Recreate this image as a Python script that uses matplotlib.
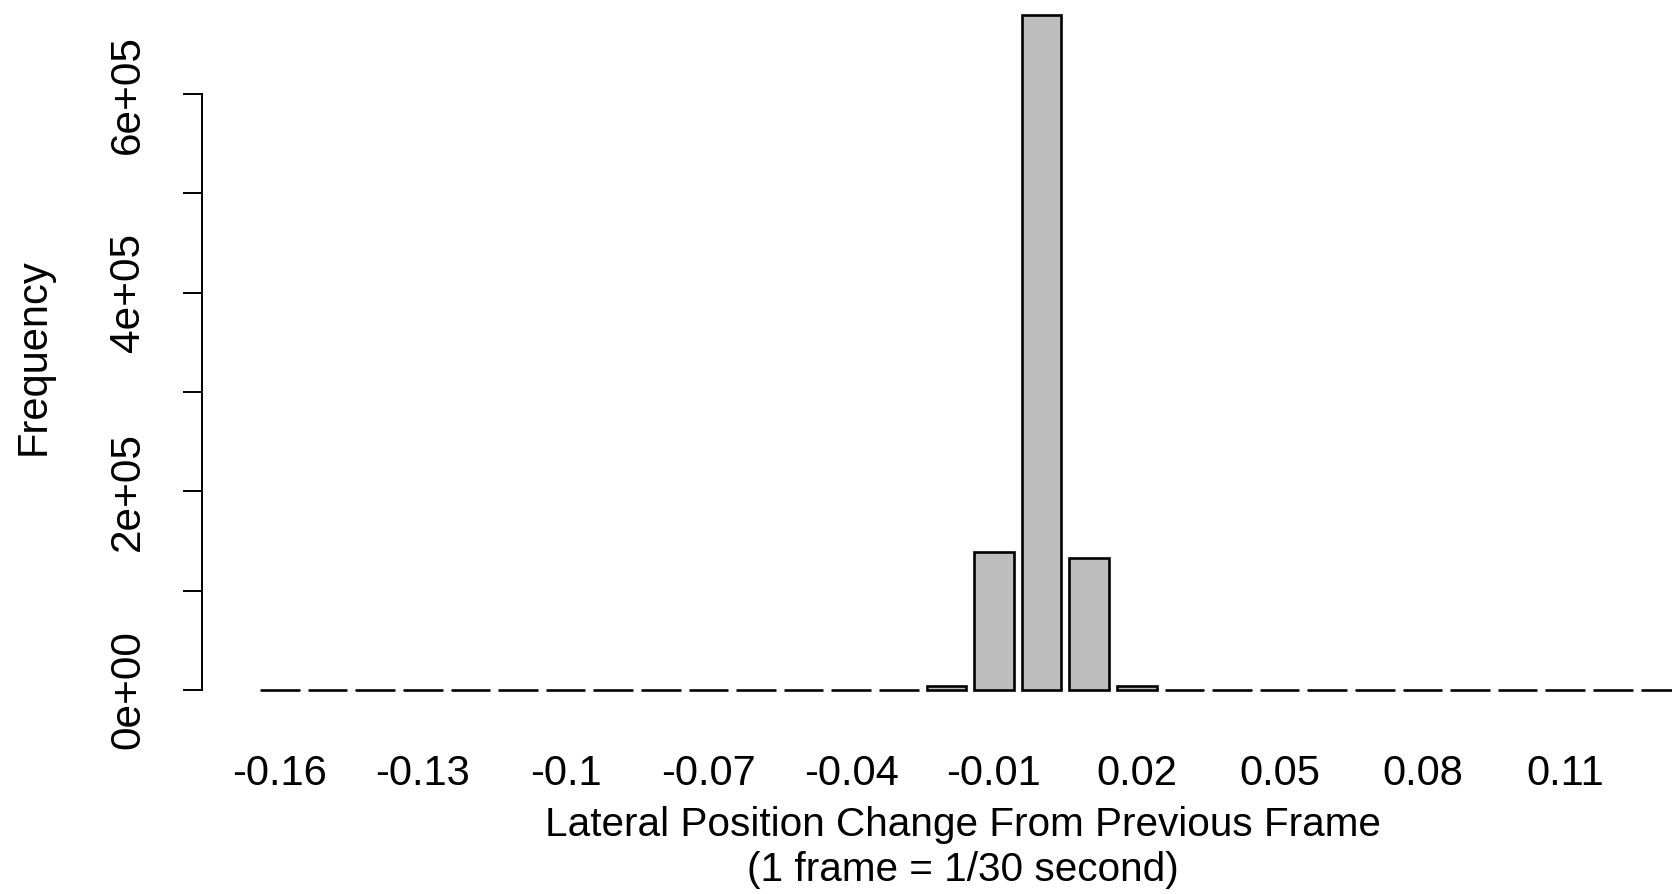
import numpy as np
import matplotlib.pyplot as plt

# bins of lateral position change (every 0.01), and counts per bin
bins = [-0.16, -0.15, -0.14, -0.13, -0.12, -0.11, -0.10, -0.09, -0.08, -0.07,
        -0.06, -0.05, -0.04, -0.03, -0.02, -0.01, 0.00, 0.01, 0.02, 0.03,
        0.04, 0.05, 0.06, 0.07, 0.08, 0.09, 0.10, 0.11, 0.12, 0.13]
counts = [0, 0, 0, 0, 0, 0, 0, 0, 0, 0,
          0, 0, 0, 0, 4500, 139000, 679500, 133000, 4000, 0,
          0, 0, 0, 0, 0, 0, 0, 0, 0, 0]

# labels R managed to fit under the bars
xlabels = ['-0.16', '-0.13', '-0.1', '-0.07', '-0.04', '-0.01',
           '0.02', '0.05', '0.08', '0.11']
yticks = [0, 100000, 200000, 300000, 400000, 500000, 600000]
ylabels = ['0e+00', '', '2e+05', '', '4e+05', '', '6e+05']

plt.rcParams['font.family'] = ['Liberation Sans', 'DejaVu Sans']

W, H = 1672, 894
fig = plt.figure(figsize=(W / 100, H / 100), dpi=100)
ax = fig.add_axes([202 / W, 1 - 690 / H, 1470 / W, 690 / H])

pos = np.arange(len(bins))
ax.bar(pos, counts, width=0.833, color='#BEBEBE', edgecolor='black',
       linewidth=1.9, clip_on=False)

ax.set_xlim((202 - 280) / 47.6, (W - 280) / 47.6)
ax.set_ylim(0, 690 / 99.33 * 1e5)

for s in ['top', 'right', 'bottom']:
    ax.spines[s].set_visible(False)
ax.spines['left'].set_bounds(0, 600000)
ax.spines['left'].set_linewidth(1.4)

xpos = [bins.index(float(l)) for l in xlabels]
ax.set_xticks(xpos, xlabels)
ax.tick_params(axis='x', length=0, pad=60.5, labelsize=30)
for t in ax.get_xticklabels():
    t.set_va('center')

ax.set_yticks(yticks, ylabels)
ax.tick_params(axis='y', length=13.7, width=1.4, pad=39.6, labelsize=30.5)
for t in ax.get_yticklabels():
    t.set_rotation(90)
    t.set_va('center')
    t.set_ha('center')

fig.text(34 / W, 1 - 357 / H, 'Frequency', rotation=90, fontsize=30,
         ha='center', va='center')
fig.text(963 / W, 1 - 825 / H, 'Lateral Position Change From Previous Frame',
         fontsize=29.2, ha='center', va='center')
fig.text(963 / W, 1 - 870 / H, '(1 frame = 1/30 second)',
         fontsize=29.2, ha='center', va='center')

fig.savefig('out.png', dpi=100)
